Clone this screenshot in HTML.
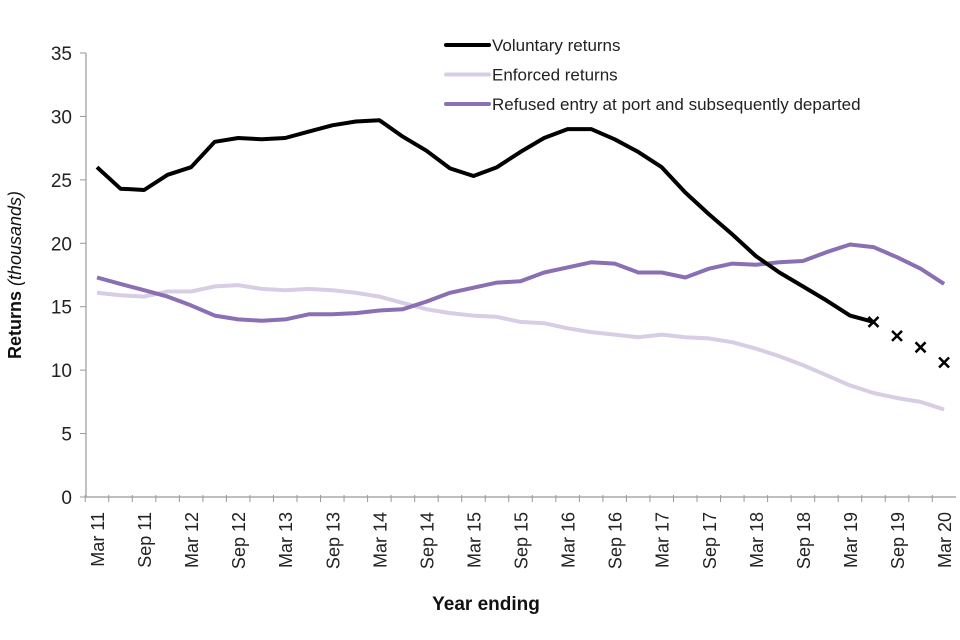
<!DOCTYPE html>
<html><head><meta charset="utf-8"><style>
body{margin:0;background:#fff;}
svg{display:block;font-family:"Liberation Sans",Arial,sans-serif;}
</style></head><body>
<svg id="chart" width="960" height="640"></svg>
<script>
const categories=["Mar 11","Jun 11","Sep 11","Dec 11","Mar 12","Jun 12","Sep 12","Dec 12","Mar 13","Jun 13","Sep 13","Dec 13","Mar 14","Jun 14","Sep 14","Dec 14","Mar 15","Jun 15","Sep 15","Dec 15","Mar 16","Jun 16","Sep 16","Dec 16","Mar 17","Jun 17","Sep 17","Dec 17","Mar 18","Jun 18","Sep 18","Dec 18","Mar 19","Jun 19","Sep 19","Dec 19","Mar 20"];
const voluntary=[26.0,24.3,24.2,25.4,26.0,28.0,28.3,28.2,28.3,28.8,29.3,29.6,29.7,28.4,27.3,25.9,25.3,26.0,27.2,28.3,29.0,29.0,28.2,27.2,26.0,24.0,22.3,20.7,19.0,17.7,16.6,15.5,14.3,13.8];
const voluntaryProjected=[null,null,null,null,null,null,null,null,null,null,null,null,null,null,null,null,null,null,null,null,null,null,null,null,null,null,null,null,null,null,null,null,null,13.8,12.7,11.8,10.6];
const enforced=[16.1,15.9,15.8,16.2,16.2,16.6,16.7,16.4,16.3,16.4,16.3,16.1,15.8,15.3,14.8,14.5,14.3,14.2,13.8,13.7,13.3,13.0,12.8,12.6,12.8,12.6,12.5,12.2,11.7,11.1,10.4,9.6,8.8,8.2,7.8,7.5,6.9];
const refused=[17.3,16.8,16.3,15.8,15.1,14.3,14.0,13.9,14.0,14.4,14.4,14.5,14.7,14.8,15.4,16.1,16.5,16.9,17.0,17.7,18.1,18.5,18.4,17.7,17.7,17.3,18.0,18.4,18.3,18.5,18.6,19.3,19.9,19.7,18.9,18.0,16.8];
const yTicks=[0,5,10,15,20,25,30,35];

const NS="http://www.w3.org/2000/svg";
const svg=document.getElementById('chart');
const X0=97,DX=23.53,Y0=497,YS=12.686;
const xs=i=>X0+i*DX;
const ys=v=>Y0-v*YS;
function mk(tag,attrs,parent){const e=document.createElementNS(NS,tag);for(const k in attrs)e.setAttribute(k,attrs[k]);(parent||svg).appendChild(e);return e;}

const yAxis=mk('g',{});


mk('line',{x1:86,y1:ys(35),x2:86,y2:Y0,stroke:'#999','stroke-width':1.2},yAxis);
yTicks.forEach(t=>{
  const l=mk('line',{x1:80,x2:86,y1:ys(t),y2:ys(t),stroke:'#999'},yAxis);
  
  
  const tx=mk('text',{x:72,y:ys(t)+7,'text-anchor':'end','font-size':19,fill:'#222'},yAxis);
  tx.textContent=t;
  
  
});
const xAxis=mk('g',{});


mk('line',{x1:86,y1:Y0,x2:956,y2:Y0,stroke:'#999','stroke-width':1.2},xAxis);
categories.forEach((c,i)=>{
  const tk=mk('line',{x1:xs(i)-DX/2,x2:xs(i)-DX/2,y1:Y0-2,y2:Y0+5,stroke:'#999'},xAxis);
  
  
  if(i%2===0){
    const tx=mk('text',{x:0,y:0,'text-anchor':'end','font-size':18,fill:'#222',transform:`translate(${xs(i)+7},512) rotate(-90)`},xAxis);
    tx.textContent=c;
    
    
  }
});
const yt=mk('text',{x:0,y:0,'text-anchor':'middle','font-size':18,fill:'#111',transform:'translate(21,275) rotate(-90)'});
yt.innerHTML='<tspan font-weight="bold">Returns</tspan> <tspan font-style="italic">(thousands)</tspan>';


const xt=mk('text',{x:486,y:610,'text-anchor':'middle','font-size':19,'font-weight':'bold',fill:'#111'});
xt.textContent='Year ending';



function line(data,color,name){
  const pts=data.map((v,i)=>v==null?null:xs(i).toFixed(1)+','+ys(v).toFixed(1)).filter(p=>p);
  const p=mk('polyline',{points:pts.join(' '),fill:'none',stroke:color,'stroke-width':4,'stroke-linejoin':'round'});
  
  
}
line(enforced,'#d7cde5','enforced-returns-line');
line(refused,'#8a6fb3','refused-entry-line');
line(voluntary,'#000','voluntary-returns-line');
voluntaryProjected.forEach((v,i)=>{
  if(v==null)return;
  const g=mk('path',{d:`M${xs(i)-5},${ys(v)-5}L${xs(i)+5},${ys(v)+5}M${xs(i)-5},${ys(v)+5}L${xs(i)+5},${ys(v)-5}`,stroke:'#000','stroke-width':2.5,fill:'none'});
  
  
});
const legendItems=[["Voluntary returns","#000"],["Enforced returns","#d7cde5"],["Refused entry at port and subsequently departed","#8a6fb3"]];
legendItems.forEach((it,k)=>{
  const g=mk('g',{});
  
  
  const y=45+k*29.5;
  mk('line',{x1:446,x2:489,y1:y,y2:y,stroke:it[1],'stroke-width':4,'stroke-linecap':'round'},g);
  const t=mk('text',{x:492,y:y+6,'font-size':17,fill:'#222'},g);
  t.textContent=it[0];
});
</script>
</body></html>
